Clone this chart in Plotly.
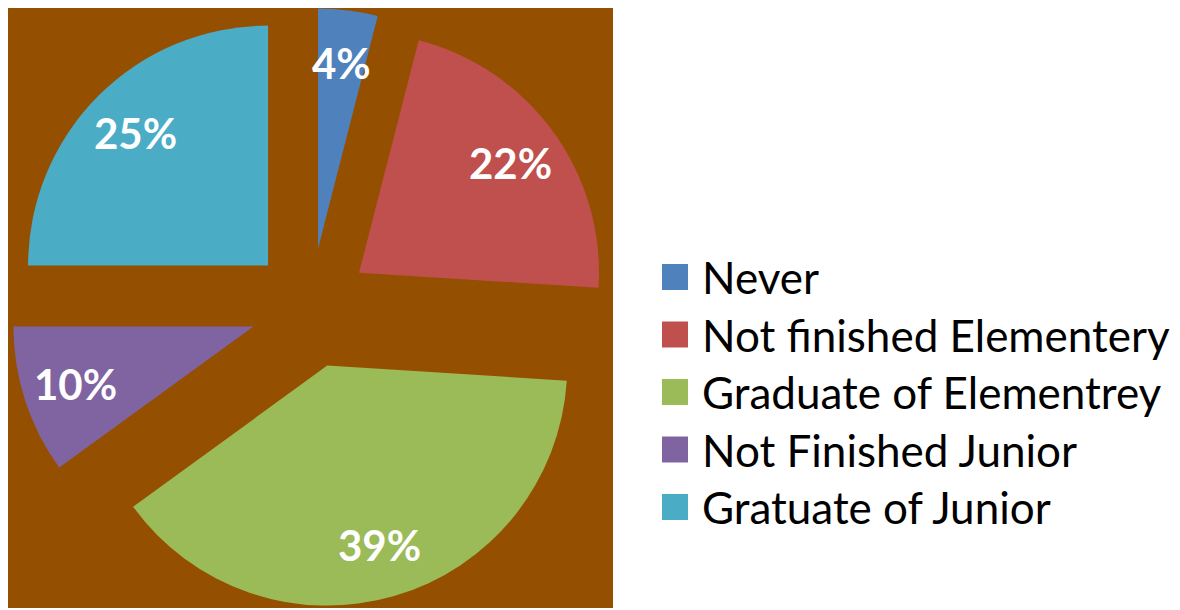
import numpy as np
import plotly.graph_objects as go

# data
categories = ["Never", "Not finished Elementery", "Graduate of Elementrey",
              "Not Finished Junior", "Gratuate of Junior"]
percent = [4, 22, 39, 10, 25]
colors = ["#4F81BD", "#C0504D", "#9BBB59", "#8064A2", "#4BACC6"]

W, H = 1180, 610
OFF = 8  # the page body adds an 8px margin around the plot div
BROWN = "#954F00"
PULL = 0.25
FONT = "Lato"


def px_to_paper(x, y):
    # screen pixels -> paper coordinates
    return (x - OFF) / W, 1 - (y - OFF) / H


# brown plot area, screen pixels
x0, x1 = 8, 613
y0, y1 = 5, 608
dx0, dy1 = px_to_paper(x0, y1)
dx1, dy0 = px_to_paper(x1, max(y0, OFF))

fig = go.Figure()

fig.add_trace(go.Pie(
    labels=categories,
    values=percent,
    sort=False,
    direction="clockwise",
    rotation=0,
    pull=[PULL] * len(percent),
    marker=dict(colors=colors, line=dict(width=0)),
    textinfo="none",
    hoverinfo="label+percent",
    showlegend=False,
    domain=dict(x=[dx0, dx1], y=[dy1, dy0]),
))

# brown plot area behind the pie
bx0, by1 = px_to_paper(x0, y1)
bx1, by0 = px_to_paper(x1, y0)
fig.add_shape(type="rect", xref="paper", yref="paper", layer="below",
              x0=bx0, x1=bx1, y0=by1, y1=by0,
              fillcolor=BROWN, line=dict(width=0))

# percentage labels inside each exploded slice
cx = (x0 + x1) / 2
cy = (max(y0, OFF) + y1) / 2
r = min(x1 - x0, y1 - max(y0, OFF)) / 2 / (1 + PULL)
total = sum(percent)
cum = 0
for v in percent:
    mid = (cum + v / 2) / total * 2 * np.pi
    cum += v
    d = (PULL + 0.78) * r
    ax, ay = px_to_paper(cx + d * np.sin(mid), cy - d * np.cos(mid))
    fig.add_annotation(x=ax, y=ay, xref="paper", yref="paper",
                       xanchor="center", yanchor="middle",
                       text=f"<b>{round(v / total * 100)}%</b>", showarrow=False,
                       font=dict(family=FONT, size=42, color="white"))

# legend on the right
leg_x, leg_y, leg_step, sq = 662, 277, 57.5, 26
for i, (name, c) in enumerate(zip(categories, colors)):
    yc = leg_y + i * leg_step
    sx0, sy0 = px_to_paper(leg_x, yc + sq / 2)
    sx1, sy1 = px_to_paper(leg_x + sq, yc - sq / 2)
    fig.add_shape(type="rect", xref="paper", yref="paper",
                  x0=sx0, x1=sx1, y0=sy0, y1=sy1,
                  fillcolor=c, line=dict(width=0))
    tx, ty = px_to_paper(leg_x + sq + 12, yc)
    fig.add_annotation(x=tx, y=ty, xref="paper", yref="paper", text=name,
                       showarrow=False, xanchor="left", yanchor="middle",
                       font=dict(family=FONT, size=44, color="black"))

fig.update_layout(
    width=W, height=H,
    margin=dict(l=0, r=0, t=0, b=0),
    paper_bgcolor="white",
    showlegend=False,
)

fig.write_html("out.html")
